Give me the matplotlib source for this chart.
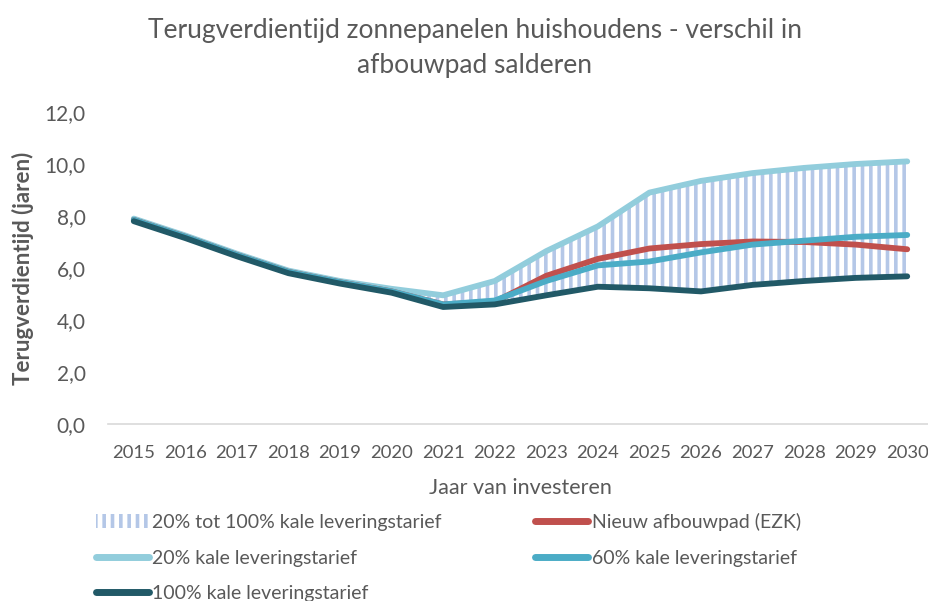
import matplotlib
matplotlib.use("Agg")
import matplotlib.pyplot as plt
from matplotlib.lines import Line2D
from matplotlib.patches import Patch

years = list(range(2015, 2031))
p20 = [7.9, 7.25, 6.55, 5.9, 5.5, 5.2, 4.95, 5.5, 6.65, 7.6, 8.9, 9.35, 9.65, 9.85, 10.0, 10.1]
p60 = [7.85, 7.2, 6.5, 5.85, 5.45, 5.1, 4.6, 4.75, 5.5, 6.1, 6.25, 6.6, 6.9, 7.05, 7.2, 7.27]
ezk = [7.85, 7.2, 6.5, 5.85, 5.45, 5.1, 4.6, 4.7, 5.7, 6.35, 6.75, 6.92, 7.02, 7.0, 6.9, 6.72]
p100 = [7.8, 7.15, 6.45, 5.8, 5.4, 5.05, 4.5, 4.6, 4.95, 5.28, 5.22, 5.1, 5.35, 5.5, 5.62, 5.68]
yticks = [0, 2, 4, 6, 8, 10, 12]

labels = ["20% tot 100% kale leveringstarief", "20% kale leveringstarief",
          "100% kale leveringstarief", "Nieuw afbouwpad (EZK)", "60% kale leveringstarief"]

c_hatch = "#B4C7E7"
c20 = "#92CDDC"
c60 = "#4BACC6"
c100 = "#215967"
cezk = "#C0504D"
gray = "#595959"

plt.rcParams['font.family'] = ['Lato', 'DejaVu Sans']
plt.rcParams['hatch.linewidth'] = 2.6
plt.rcParams['hatch.color'] = c_hatch

fig = plt.figure(figsize=(9.29, 6.01), dpi=100)
ax = fig.add_axes([108/929, 177/601, 825/929, 312/601])

ax.fill_between(years, p100, p20, facecolor="none", edgecolor=c_hatch, hatch="||", linewidth=0)
lw = 4.2
ax.plot(years, p20, color=c20, lw=lw, solid_capstyle="round", zorder=3)
ax.plot(years, ezk, color=cezk, lw=lw, solid_capstyle="round", zorder=4)
ax.plot(years, p60, color=c60, lw=lw, solid_capstyle="round", zorder=5)
ax.plot(years, p100, color=c100, lw=lw, solid_capstyle="round", zorder=6)

ax.set_xlim(2014.5, 2030.5)
ax.set_ylim(0, 12)
ax.set_xticks(years)
ax.set_xticklabels([str(y) for y in years])
ax.set_yticks(yticks)
ax.set_yticklabels([f"{v:.1f}".replace(".", ",") for v in yticks])
ax.tick_params(axis="both", length=0, colors=gray)
ax.tick_params(axis="x", pad=15, labelsize=13.3)
ax.tick_params(axis="y", pad=16, labelsize=15)
for s in ["top", "right", "left"]:
    ax.spines[s].set_visible(False)
ax.spines["bottom"].set_color("#D9D9D9")
ax.spines["bottom"].set_linewidth(1.2)

ax.set_xlabel("Jaar van investeren", fontsize=15.5, color=gray, labelpad=12)
ax.set_ylabel("Terugverdientijd (jaren)", fontsize=16, color=gray, fontweight="bold", labelpad=8)

fig.text(475/929, 1 - 48/601, "Terugverdientijd zonnepanelen huishoudens - verschil in\nafbouwpad salderen",
         ha="center", va="center", fontsize=19, color=gray, linespacing=1.5)

handles = [
    Patch(facecolor="none", edgecolor=c_hatch, hatch="||", linewidth=0),
    Line2D([], [], color=c20, lw=5, solid_capstyle="round"),
    Line2D([], [], color=c100, lw=5, solid_capstyle="round"),
    Line2D([], [], color=cezk, lw=5, solid_capstyle="round"),
    Line2D([], [], color=c60, lw=5, solid_capstyle="round"),
]
leg = fig.legend(handles, labels, ncol=2, loc="upper left", bbox_to_anchor=(96/929, 1 - 513/601),
                 frameon=False, fontsize=14, handlelength=2.7, handletextpad=0.2,
                 columnspacing=4.8, labelspacing=0.95, borderaxespad=0, borderpad=0)
for t in leg.get_texts():
    t.set_color(gray)

fig.savefig("out.png", dpi=100)
